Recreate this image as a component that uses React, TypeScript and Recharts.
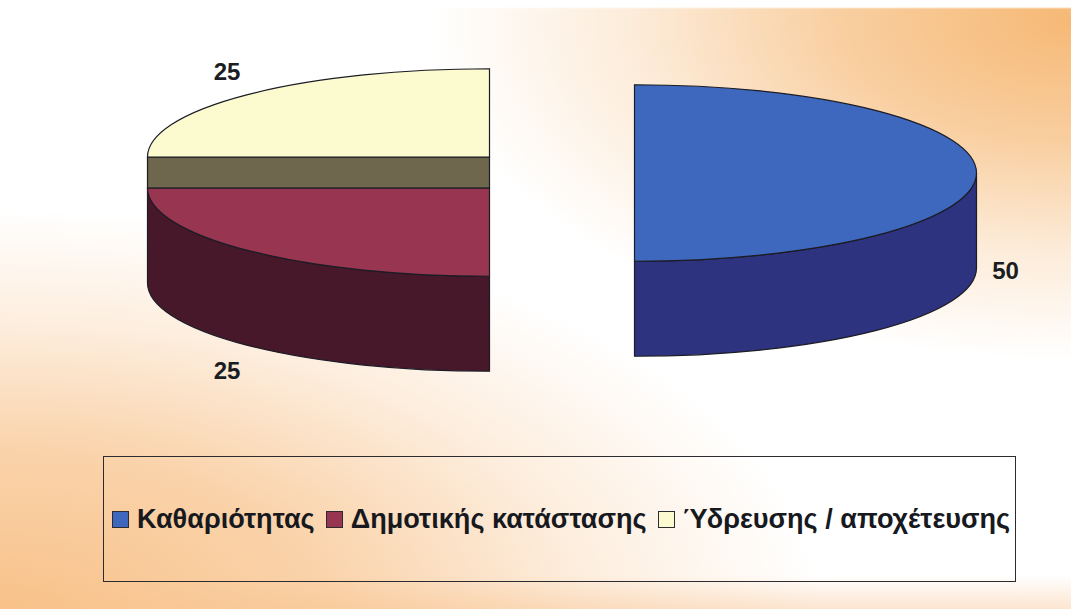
import * as React from "react";
import { PieChart, Pie, Legend } from "recharts";

const CATEGORIES = ["Καθαριότητας", "Δημοτικής κατάστασης", "Ύδρευσης / αποχέτευσης"];
const VALUES = [50, 25, 25];
const TOP_COLORS = ["#3d68bd", "#983550", "#fbfbcf"];
const SIDE_COLORS = ["#2d337f", "#47182a", "#6e664d"];

// how far each slice is pulled out of the pie, in px
const EXPLODE = [
  { dx: 73, dy: 0 },
  { dx: -72, dy: 15 },
  { dx: -72, dy: -16 },
];

const WIDTH = 1071;
const HEIGHT = 609;
const RADIUS = 342;
const SQUASH = 0.258; // ellipse height / width of the tilted pie
const DEPTH = 95;
const CUT_FACE = 31; // visible part of the yellow slice's cut side

const tableData = CATEGORIES.map((name, i) => ({ name, value: VALUES[i], fill: TOP_COLORS[i] }));

const rad = (a: number) => (a * Math.PI) / 180;

function Slice3D(props: any) {
  const { cx, cy, outerRadius, startAngle, endAngle, index, fill } = props;
  const ox = cx + EXPLODE[index].dx;
  const oy = cy + EXPLODE[index].dy;
  const rx = outerRadius;
  const ry = outerRadius * SQUASH;
  const pt = (a: number) => [ox + rx * Math.cos(rad(a)), oy - ry * Math.sin(rad(a))];
  const [sx, sy] = pt(startAngle);
  const [ex, ey] = pt(endAngle);
  const top = `M${ox},${oy} L${sx},${sy} A${rx},${ry} 0 0 1 ${ex},${ey} Z`;

  // outer wall shows only on the front half of the ellipse
  const a1 = Math.min(startAngle, 0);
  const a2 = Math.max(endAngle, -180);
  let wall = null;
  if (a1 > a2) {
    const [wx1, wy1] = pt(a1);
    const [wx2, wy2] = pt(a2);
    wall = `M${wx1},${wy1} A${rx},${ry} 0 0 1 ${wx2},${wy2} L${wx2},${wy2 + DEPTH} A${rx},${ry} 0 0 0 ${wx1},${wy1 + DEPTH} Z`;
  }
  const stroke = "#1c1c24";
  return (
    <g>
      {wall && <path d={wall} fill={SIDE_COLORS[index]} stroke={stroke} strokeWidth={1.2} />}
      {index === 2 && (
        <rect x={ox - rx} y={oy} width={rx} height={CUT_FACE} fill={SIDE_COLORS[index]} stroke={stroke} strokeWidth={1.2} />
      )}
      <path d={top} fill={fill} stroke={stroke} strokeWidth={1.2} />
    </g>
  );
}

function SliceLabel(props: any) {
  const { cx, cy, outerRadius, midAngle, index, value } = props;
  const ox = cx + EXPLODE[index].dx;
  const oy = cy + EXPLODE[index].dy;
  const c = Math.cos(rad(midAngle));
  const s = Math.sin(rad(midAngle));
  const x = ox + outerRadius * 1.085 * c;
  const y = oy - outerRadius * SQUASH * 1.37 * s + (s <= 0 ? DEPTH + 2 : 0);
  return (
    <text x={x} y={y} textAnchor="middle" dominantBaseline="central" fontFamily="Liberation Sans" fontWeight="bold" fontSize={24} fill="#1a1d22">
      {value}
    </text>
  );
}

function LegendBox({ payload }: any) {
  return (
    <div
      style={{
        boxSizing: "border-box",
        width: 913,
        height: 126,
        border: "1.5px solid #2c2c30",
        display: "flex",
        alignItems: "center",
        paddingLeft: 8,
        fontFamily: "Liberation Sans",
        fontWeight: "bold",
        fontSize: 27.1,
        color: "#17191e",
        whiteSpace: "nowrap",
      }}
    >
      {(payload || []).map((item: any) => (
        <span key={item.value} style={{ display: "flex", alignItems: "center", marginRight: 11 }}>
          <span
            style={{
              boxSizing: "border-box",
              width: 17,
              height: 17,
              marginRight: 8,
              background: item.color,
              border: "1.5px solid #2c2c30",
            }}
          />
          {item.value}
        </span>
      ))}
    </div>
  );
}

export default function App() {
  return (
    <div
      style={{
        position: "absolute",
        left: 0,
        top: 0,
        width: WIDTH,
        height: HEIGHT,
        overflow: "hidden",
        background: [
          "linear-gradient(#ffffff 0 7px, rgba(255,255,255,0) 9px)",
          "radial-gradient(ellipse 640px 340px at 1071px 20px, #f6b976 0%, rgba(246,185,118,0.7) 35%, rgba(246,185,118,0.28) 68%, rgba(246,185,118,0) 100%)",
          "radial-gradient(ellipse 820px 400px at 0px 609px, #f8c28a 0%, rgba(248,194,138,0.72) 40%, rgba(248,194,138,0.28) 72%, rgba(248,194,138,0) 100%)",
          "linear-gradient(0deg, rgba(251,220,192,0.75) 0px, rgba(251,220,192,0) 34px)",
          "#ffffff",
        ].join(","),
      }}
    >
      <PieChart width={WIDTH} height={HEIGHT} margin={{ top: 0, right: 0, bottom: 0, left: 0 }}>
        <Pie
          data={tableData}
          dataKey="value"
          nameKey="name"
          cx={561.5}
          cy={173}
          outerRadius={RADIUS}
          startAngle={90}
          endAngle={-270}
          shape={Slice3D}
          label={SliceLabel}
          labelLine={false}
          isAnimationActive={false}
        />
        <Legend
          content={LegendBox}
          itemSorter={null}
          wrapperStyle={{ position: "absolute", left: 103, top: 456, width: 913, height: 126, bottom: "auto" }}
        />
      </PieChart>
    </div>
  );
}
